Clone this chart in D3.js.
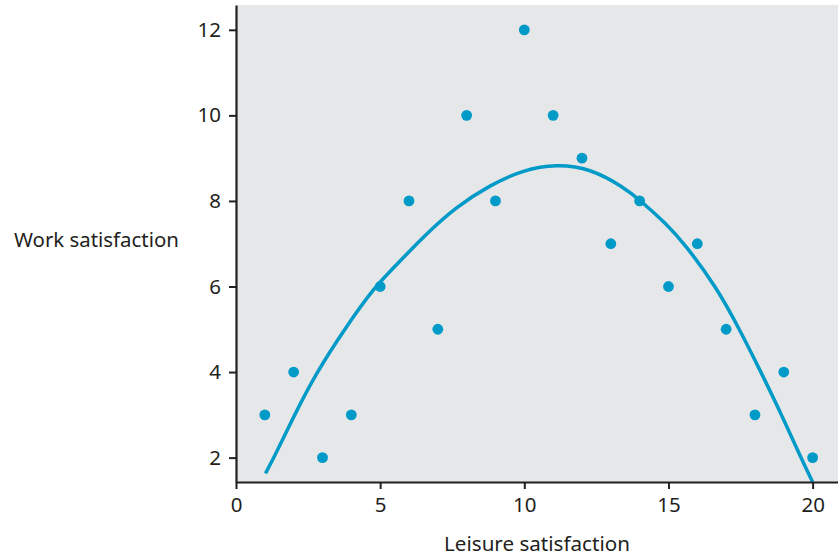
<!DOCTYPE html>
<html>
<head>
<meta charset="utf-8">
<script src="https://cdn.jsdelivr.net/npm/d3@7"></script>
<style>
  body { margin: 0; background: #fff; }
  text { font-family: 'Noto Sans', 'Open Sans', sans-serif; fill: #231f20; }
</style>
</head>
<body>
<div id="chart"></div>
<script>
// leisure vs work satisfaction, 20 observations
const leisure = [1, 2, 3, 4, 5, 6, 7, 8, 9, 10, 11, 12, 13, 14, 15, 16, 17, 18, 19, 20]
const work = [3, 4, 2, 3, 6, 8, 5, 10, 8, 12, 10, 9, 7, 8, 6, 7, 5, 3, 4, 2]

// fitted curve
const curveX = [1.02, 1.29, 2.02, 2.77, 3.82, 4.8, 5.46, 6.5, 7.65, 8.81, 9.97, 11.12, 12.28, 13.43, 14.01, 14.9, 15.57, 16.67, 17.48, 18.23, 18.93, 19.62, 20.0]
const curveY = [1.63, 1.96, 2.99, 3.97, 5.06, 5.98, 6.43, 7.17, 7.87, 8.37, 8.73, 8.86, 8.76, 8.33, 8.02, 7.48, 6.99, 5.98, 4.98, 3.97, 2.99, 1.96, 1.43]

const xTicks = [0, 5, 10, 15, 20]
const yTicks = [2, 4, 6, 8, 10, 12]
const xLabel = 'Leisure satisfaction'
const yLabel = 'Work satisfaction'

const BLUE = '#009ac8'
const INK = '#231f20'

const dimensions = {
  width: 838,
  height: 557,
  margin: { top: 5, right: 0, bottom: 75, left: 236 }
}

const wrapper = d3.select('#chart').append('svg')
  .attr('width', dimensions.width)
  .attr('height', dimensions.height)

const innerW = dimensions.width - dimensions.margin.left - dimensions.margin.right
const innerH = dimensions.height - dimensions.margin.top - dimensions.margin.bottom

const xScale = d3.scaleLinear()
  .domain([0, 20.88])
  .range([0, innerW])

const yScale = d3.scaleLinear()
  .domain([1.43, 12.58])
  .range([innerH, 0])

const bounds = wrapper.append('g')
  .attr('transform', `translate(${dimensions.margin.left}, ${dimensions.margin.top})`)

bounds.append('rect')
  .attr('width', innerW)
  .attr('height', innerH)
  .attr('fill', '#e6e7e8')

// curve
const line = d3.line()
  .x(d => xScale(d[0]))
  .y(d => yScale(d[1]))
  .curve(d3.curveBasis)

bounds.append('path')
  .datum(curveX.map((x, i) => [x, curveY[i]]))
  .attr('fill', 'none')
  .attr('stroke', BLUE)
  .attr('stroke-width', 3.5)
  .attr('d', line)

// points
bounds.selectAll('circle')
  .data(leisure.map((x, i) => ({ x, y: work[i] })))
  .join('circle')
  .attr('cx', d => xScale(d.x))
  .attr('cy', d => yScale(d.y))
  .attr('r', 5.4)
  .attr('fill', BLUE)

// axes
const xAxis = bounds.append('g')
  .attr('transform', `translate(0, ${innerH})`)
  .call(d3.axisBottom(xScale).tickValues(xTicks).tickSize(7).tickSizeOuter(0).tickPadding(8))
const yAxis = bounds.append('g')
  .call(d3.axisLeft(yScale).tickValues(yTicks).tickSize(7).tickSizeOuter(0).tickPadding(8))

for (const ax of [xAxis, yAxis]) {
  ax.select('.domain').attr('stroke', INK).attr('stroke-width', 2.2)
  ax.selectAll('.tick line').attr('stroke', INK).attr('stroke-width', 2)
  ax.selectAll('.tick text')
    .attr('font-size', 20.5)
    .attr('fill', INK)
    .style('font-family', "'Noto Sans', sans-serif")
}

// labels
wrapper.append('text')
  .attr('x', dimensions.margin.left + innerW / 2)
  .attr('y', 551)
  .attr('text-anchor', 'middle')
  .attr('font-size', 20.6)
  .text(xLabel)

wrapper.append('text')
  .attr('x', 14)
  .attr('y', 247)
  .attr('font-size', 20.4)
  .text(yLabel)
</script>
</body>
</html>
